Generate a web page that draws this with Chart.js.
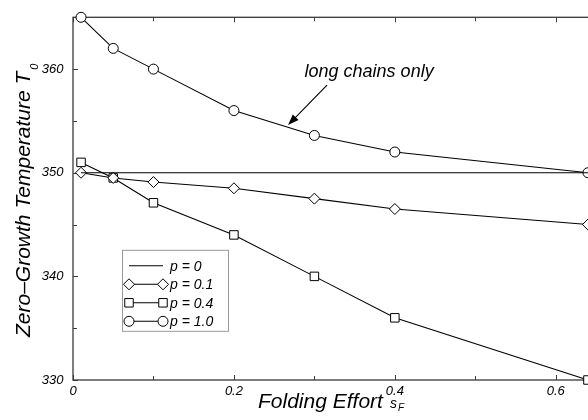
<!DOCTYPE html>
<html>
<head>
<meta charset="utf-8">
<script src="https://cdn.jsdelivr.net/npm/chart.js@4/dist/chart.umd.min.js"></script>
<style>
  html, body { margin: 0; padding: 0; background: #fff; overflow: hidden; }
  #wrap { width: 606px; height: 420px; }
</style>
</head>
<body>
<div id="wrap"><canvas id="chart" width="606" height="420"></canvas></div>
<script>
// values
const effort = [0.01, 0.05, 0.1, 0.2, 0.3, 0.4, 0.64];
const tempP0 = [350, 350, 350, 350, 350, 350, 350];
const tempP01 = [350, 349.5, 349.1, 348.5, 347.5, 346.5, 345];
const tempP04 = [351, 349.5, 347.1, 344, 340, 336, 330];
const tempP10 = [365, 362, 360, 356, 353.6, 352, 350];
const seriesLabels = ['p = 0', 'p = 0.1', 'p = 0.4', 'p = 1.0'];
const seriesMarkers = [false, 'rectRot', 'rect', 'circle'];

const xTicks = [0, 0.1, 0.2, 0.3, 0.4, 0.5, 0.6];
const xTickLabels = ['0', '', '0.2', '', '0.4', '', '0.6'];
const yTicks = [330, 335, 340, 345, 350, 355, 360, 365];
const yTickLabels = ['330', '', '340', '', '350', '', '360', ''];

const xTitle = 'Folding Effort';
const yTitle = 'Zero\u2013Growth Temperature T';
const noteText = 'long chains only';
// note anchor and arrow, in data units
const noteAt = { x: 0.368, y: 359.2 };
const arrowFrom = { x: 0.3157, y: 358.45 };
const arrowTo = { x: 0.2672, y: 354.6 };

const FONT = '"Liberation Sans", Arial, Helvetica, sans-serif';
const AXIS = '#3a3a3a';
const markerRadius = { rectRot: 5.5, rect: 6, circle: 5 };

function pairs(vals) {
  return effort.map((x, i) => ({ x: x, y: vals[i] }));
}

function makeSet(label, vals, marker) {
  return {
    label: label,
    data: pairs(vals),
    borderColor: '#000',
    borderWidth: 1.1,
    pointStyle: marker || 'circle',
    pointRadius: marker ? markerRadius[marker] : 0,
    pointBackgroundColor: '#fff',
    pointBorderColor: '#000',
    pointBorderWidth: 1,
    tension: 0,
    clip: false
  };
}

const framePlugin = {
  id: 'frame',
  beforeDatasetsDraw(chart) {
    const { ctx, chartArea: a, scales: { x, y } } = chart;
    ctx.save();
    ctx.strokeStyle = AXIS;
    ctx.lineWidth = 1.3;
    ctx.strokeRect(a.left, a.top, a.right - a.left, a.bottom - a.top);
    ctx.lineWidth = 1;
    ctx.beginPath();
    xTicks.forEach((v, i) => {
      const px = Math.round(x.getPixelForValue(v)) + 0.5;
      const len = xTickLabels[i] ? 5 : 4;
      ctx.moveTo(px, a.bottom); ctx.lineTo(px, a.bottom - len);
      ctx.moveTo(px, a.top); ctx.lineTo(px, a.top + len);
    });
    yTicks.forEach((v, i) => {
      const py = Math.round(y.getPixelForValue(v)) + 0.5;
      const len = yTickLabels[i] ? 5 : 4;
      ctx.moveTo(a.left, py); ctx.lineTo(a.left + len, py);
      ctx.moveTo(a.right, py); ctx.lineTo(a.right - len, py);
    });
    ctx.stroke();
    ctx.restore();
  }
};

const overlayPlugin = {
  id: 'overlay',
  afterDraw(chart) {
    const { ctx, chartArea: a, scales: { x, y } } = chart;
    ctx.save();
    ctx.fillStyle = '#000';
    ctx.textBaseline = 'alphabetic';

    // legend box
    const lx = a.left + 49, ly = a.top + 232.5;
    ctx.strokeStyle = '#999';
    ctx.lineWidth = 1;
    ctx.strokeRect(lx + 0.5, ly + 0.5, 106, 81);
    chart.data.datasets.forEach((ds, i) => {
      const cy = ly + 16 + i * 18.5;
      const x0 = lx + 7, x1 = lx + 41;
      ctx.strokeStyle = '#000';
      ctx.lineWidth = 1.1;
      ctx.beginPath();
      ctx.moveTo(x0, cy); ctx.lineTo(x1, cy);
      ctx.stroke();
      if (ds.pointRadius > 0) {
        ctx.fillStyle = '#fff';
        ctx.lineWidth = 1;
        [x0, x1].forEach(px => {
          Chart.helpers.drawPoint(ctx, {
            pointStyle: ds.pointStyle, radius: ds.pointRadius, rotation: 0, borderWidth: 1
          }, px, cy);
        });
      }
      ctx.fillStyle = '#000';
      ctx.font = 'italic 14px ' + FONT;
      ctx.fillText(ds.label, lx + 48, cy + 5);
    });

    // annotation
    ctx.font = 'italic 18px ' + FONT;
    ctx.textAlign = 'center';
    ctx.fillText(noteText, x.getPixelForValue(noteAt.x), y.getPixelForValue(noteAt.y));
    const tx = x.getPixelForValue(arrowFrom.x), ty = y.getPixelForValue(arrowFrom.y);
    const hx = x.getPixelForValue(arrowTo.x), hy = y.getPixelForValue(arrowTo.y);
    const ang = Math.atan2(hy - ty, hx - tx);
    ctx.strokeStyle = '#000';
    ctx.lineWidth = 1.1;
    ctx.beginPath();
    ctx.moveTo(tx, ty);
    ctx.lineTo(hx - 8 * Math.cos(ang), hy - 8 * Math.sin(ang));
    ctx.stroke();
    ctx.beginPath();
    ctx.moveTo(hx, hy);
    ctx.lineTo(hx - 11 * Math.cos(ang) + 4 * Math.sin(ang), hy - 11 * Math.sin(ang) - 4 * Math.cos(ang));
    ctx.lineTo(hx - 11 * Math.cos(ang) - 4 * Math.sin(ang), hy - 11 * Math.sin(ang) + 4 * Math.cos(ang));
    ctx.closePath();
    ctx.fill();

    // x title with subscript
    ctx.textAlign = 'left';
    ctx.font = 'italic 21px ' + FONT;
    const xs = 258, xb = 408;
    ctx.fillText(xTitle, xs, xb);
    let w = ctx.measureText(xTitle).width;
    ctx.font = 'italic 14px ' + FONT;
    ctx.fillText('s', xs + w + 7, xb);
    const sw = ctx.measureText('s').width;
    ctx.font = 'italic 10px ' + FONT;
    ctx.fillText('F', xs + w + 7 + sw + 1, xb + 3);

    // y title, rotated, with subscript
    ctx.translate(30, 337);
    ctx.rotate(-Math.PI / 2);
    ctx.font = 'italic 21px ' + FONT;
    ctx.fillText(yTitle, 0, 0);
    w = ctx.measureText(yTitle).width;
    ctx.font = 'italic 11px ' + FONT;
    ctx.fillText('0', w + 2, 8);
    ctx.restore();
  }
};

const tickFont = { family: FONT, size: 13, style: 'italic' };

new Chart(document.getElementById('chart'), {
  type: 'line',
  data: {
    datasets: [
      makeSet(seriesLabels[0], tempP0, seriesMarkers[0]),
      makeSet(seriesLabels[1], tempP01, seriesMarkers[1]),
      makeSet(seriesLabels[2], tempP04, seriesMarkers[2]),
      makeSet(seriesLabels[3], tempP10, seriesMarkers[3])
    ]
  },
  options: {
    responsive: false,
    animation: false,
    layout: { padding: { left: 0, top: 14.5, right: 10, bottom: 0 } },
    plugins: { legend: { display: false }, tooltip: { enabled: false } },
    scales: {
      x: {
        type: 'linear',
        min: 0,
        max: 0.65,
        grid: { display: false, drawTicks: false },
        border: { display: false },
        afterBuildTicks: s => { s.ticks = xTicks.map(v => ({ value: v })); },
        afterFit: s => { s.height = 40; },
        ticks: {
          autoSkip: false,
          maxRotation: 0,
          padding: 4,
          color: '#000',
          font: tickFont,
          callback: (v, i) => xTickLabels[i]
        }
      },
      y: {
        type: 'linear',
        min: 330,
        max: 365,
        grid: { display: false, drawTicks: false },
        border: { display: false },
        afterBuildTicks: s => { s.ticks = yTicks.map(v => ({ value: v })); },
        afterFit: s => { s.width = 73; },
        ticks: {
          autoSkip: false,
          padding: 9.5,
          color: '#000',
          font: tickFont,
          callback: (v, i) => yTickLabels[i]
        }
      }
    }
  },
  plugins: [framePlugin, overlayPlugin]
});
</script>
</body>
</html>
